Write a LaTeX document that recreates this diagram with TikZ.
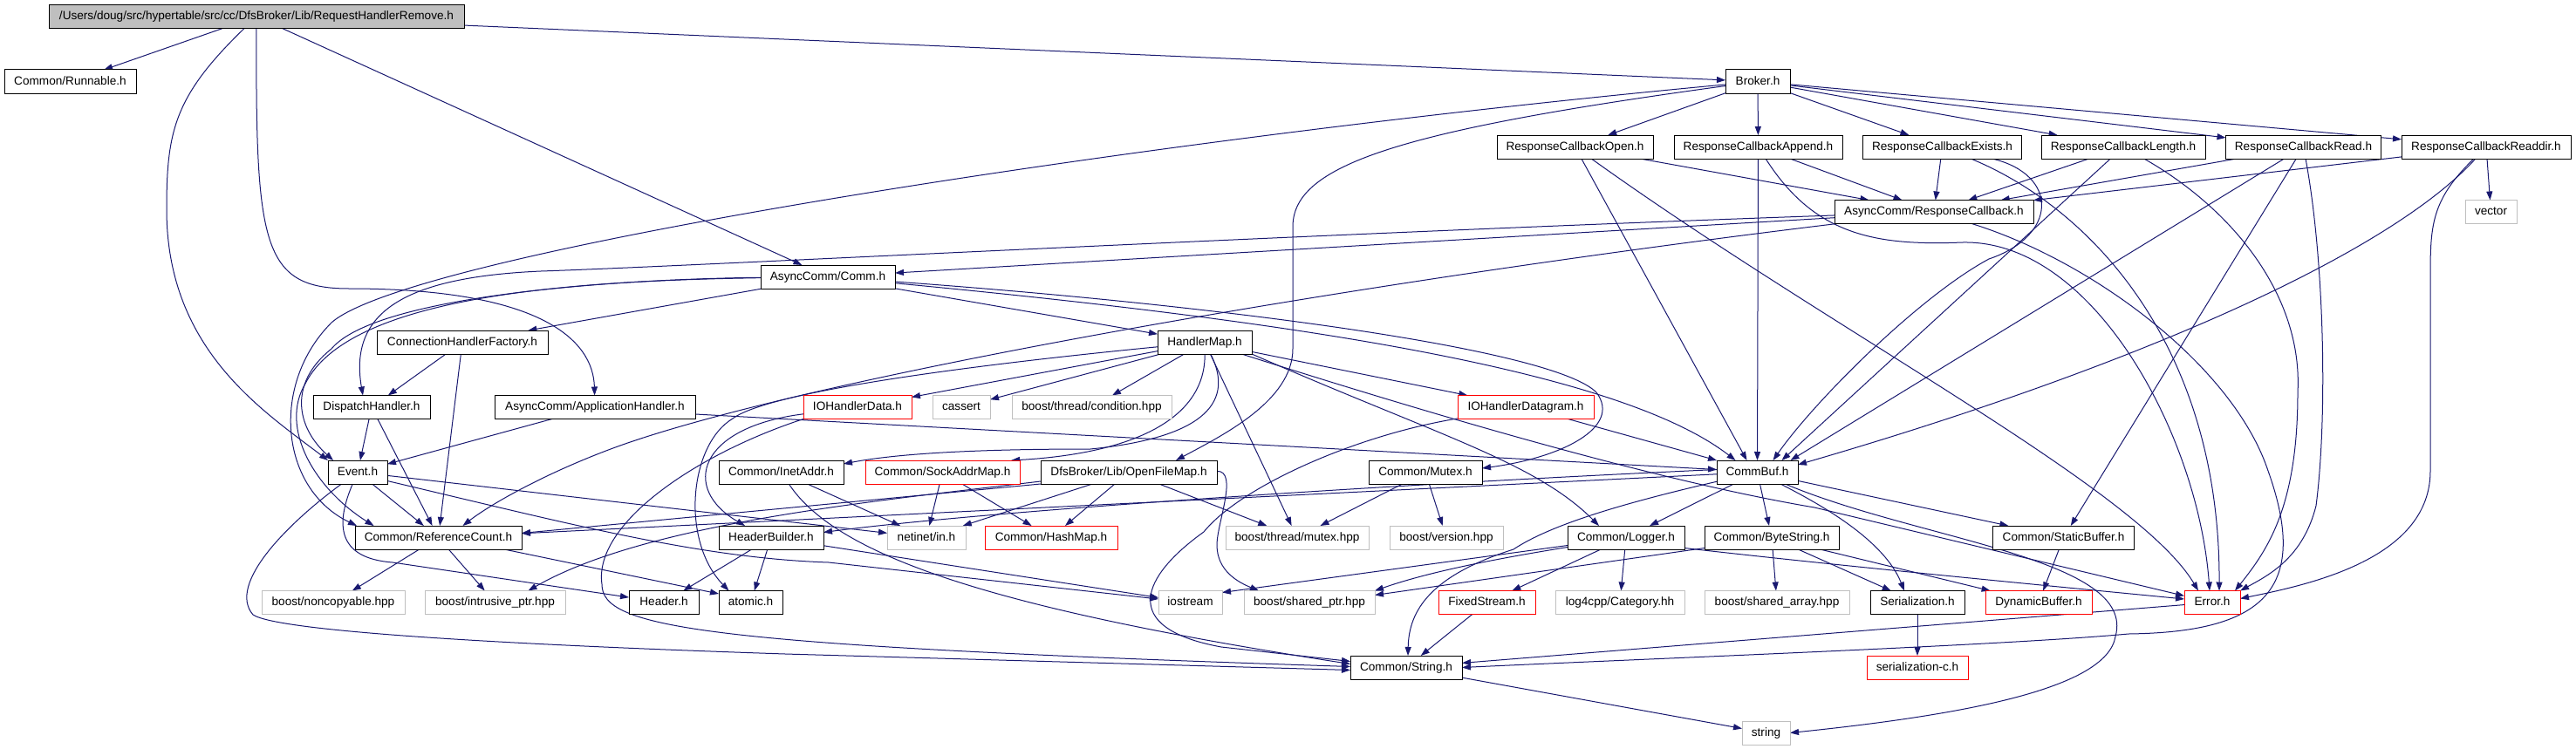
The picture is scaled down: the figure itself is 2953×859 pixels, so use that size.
\documentclass[tikz,border=0pt]{standalone}
\usepackage{fontspec}
\setmainfont{Liberation Sans}
\usetikzlibrary{arrows.meta}
\definecolor{edgecol}{HTML}{191970}
\definecolor{sysgrey}{HTML}{BFBFBF}
\newcommand\ndfont{\fontsize{13.6pt}{16pt}\selectfont}
\pgfdeclarelayer{bgl}
\pgfdeclarelayer{edgel}
\pgfsetlayers{bgl,edgel,main}
\begin{document}
\begin{tikzpicture}[x=1pt,y=-1pt,
  nd/.style={draw=black, fill=white, line width=1pt, minimum height=27pt, inner sep=0pt, outer sep=0pt, text height=10pt, text depth=3pt, font=\ndfont},
  ndred/.style={nd, draw=red},
  ndsys/.style={nd, draw=sysgrey},
  ndroot/.style={nd, fill=sysgrey},
  dep/.style={draw=edgecol, line width=1pt, -{Triangle[length=10pt,width=7pt]}}]
\useasboundingbox (0,0) rectangle (2953,859);
\begin{pgfonlayer}{bgl}\fill[white] (0,0) rectangle (2953,859);\end{pgfonlayer}

% ---------------- nodes ----------------
\node[ndroot, minimum width=476pt] (root) at (294,19) {/Users/doug/src/hypertable/src/cc/DfsBroker/Lib/RequestHandlerRemove.h};
\node[nd, minimum width=151pt] (runnable) at (80.5,93.5) {Common/Runnable.h};
\node[nd, minimum width=74pt] (broker) at (2015,93.5) {Broker.h};
\node[nd, minimum width=179pt] (rcopen) at (1805.5,168.5) {ResponseCallbackOpen.h};
\node[nd, minimum width=193pt] (rcappend) at (2015.5,168.5) {ResponseCallbackAppend.h};
\node[nd, minimum width=182pt] (rcexists) at (2226.5,168.5) {ResponseCallbackExists.h};
\node[nd, minimum width=188pt] (rclength) at (2434,168.5) {ResponseCallbackLength.h};
\node[nd, minimum width=178pt] (rcread) at (2640.5,168.5) {ResponseCallbackRead.h};
\node[nd, minimum width=194pt] (rcreaddir) at (2850,168.5) {ResponseCallbackReaddir.h};
\node[nd, minimum width=228pt] (respcb) at (2217,243) {AsyncComm/ResponseCallback.h};
\node[ndsys, minimum width=59pt] (vector) at (2855.5,243) {vector};
\node[nd, minimum width=154pt] (comm) at (949,317.5) {AsyncComm/Comm.h};
\node[nd, minimum width=196pt] (connhf) at (530,392.5) {ConnectionHandlerFactory.h};
\node[nd, minimum width=108pt] (handlermap) at (1381,392.5) {HandlerMap.h};
\node[nd, minimum width=134pt] (dispatch) at (426,467) {DispatchHandler.h};
\node[nd, minimum width=230pt] (apphandler) at (682,467) {AsyncComm/ApplicationHandler.h};
\node[ndred, minimum width=124pt] (iohdata) at (983,467) {IOHandlerData.h};
\node[ndsys, minimum width=66pt] (cassert) at (1102,467) {cassert};
\node[ndsys, minimum width=183pt] (condition) at (1251.5,467) {boost/thread/condition.hpp};
\node[ndred, minimum width=156pt] (iohdgram) at (1749,467) {IOHandlerDatagram.h};
\node[nd, minimum width=68pt] (event) at (410,541.5) {Event.h};
\node[nd, minimum width=143pt] (inetaddr) at (895.5,541.5) {Common/InetAddr.h};
\node[ndred, minimum width=177pt] (sockaddrmap) at (1080.5,541.5) {Common/SockAddrMap.h};
\node[nd, minimum width=202pt] (openfilemap) at (1294,541.5) {DfsBroker/Lib/OpenFileMap.h};
\node[nd, minimum width=130pt] (mutex) at (1634,541.5) {Common/Mutex.h};
\node[nd, minimum width=93pt] (commbuf) at (2014.5,541.5) {CommBuf.h};
\node[nd, minimum width=191pt] (refcount) at (502.5,616.5) {Common/ReferenceCount.h};
\node[nd, minimum width=120pt] (headerbuilder) at (884,616.5) {HeaderBuilder.h};
\node[ndsys, minimum width=90pt] (netinet) at (1062,616.5) {netinet/in.h};
\node[ndred, minimum width=152pt] (hashmap) at (1205,616.5) {Common/HashMap.h};
\node[ndsys, minimum width=164pt] (bmutex) at (1487,616.5) {boost/thread/mutex.hpp};
\node[ndsys, minimum width=130pt] (bversion) at (1658,616.5) {boost/version.hpp};
\node[nd, minimum width=134pt] (logger) at (1864,616.5) {Common/Logger.h};
\node[nd, minimum width=154pt] (bytestring) at (2031,616.5) {Common/ByteString.h};
\node[nd, minimum width=162pt] (staticbuffer) at (2365.5,616.5) {Common/StaticBuffer.h};
\node[ndsys, minimum width=164pt] (noncopyable) at (382,691) {boost/noncopyable.hpp};
\node[ndsys, minimum width=161pt] (intrusive) at (567.5,691) {boost/intrusive\_ptr.hpp};
\node[nd, minimum width=80pt] (header) at (761,691) {Header.h};
\node[nd, minimum width=73pt] (atomic) at (860.5,691) {atomic.h};
\node[ndsys, minimum width=73pt] (iostream) at (1364.5,691) {iostream};
\node[ndsys, minimum width=150pt] (sharedptr) at (1501,691) {boost/shared\_ptr.hpp};
\node[ndred, minimum width=111pt] (fixedstream) at (1704.5,691) {FixedStream.h};
\node[ndsys, minimum width=148pt] (category) at (1857,691) {log4cpp/Category.hh};
\node[ndsys, minimum width=166pt] (sharedarray) at (2037,691) {boost/shared\_array.hpp};
\node[nd, minimum width=108pt] (serialization) at (2198,691) {Serialization.h};
\node[ndred, minimum width=122pt] (dynbuf) at (2337,691) {DynamicBuffer.h};
\node[ndred, minimum width=64pt] (error) at (2536,691) {Error.h};
\node[nd, minimum width=128pt] (string) at (1612,765.5) {Common/String.h};
\node[ndred, minimum width=116pt] (serc) at (2198,765.5) {serialization-c.h};
\node[ndsys, minimum width=55pt] (stdstring) at (2024.5,840.5) {string};

% ---------------- edges ----------------
\begin{pgfonlayer}{edgel}
% root
\draw[dep] (root) -- (runnable);
\draw[dep] (root) -- (broker);
\draw[dep] (root) -- (comm);
\draw[dep] (root) .. controls (293,280) and (300,331) .. (400,331) .. controls (620,331) and (680,390) .. (apphandler);
\draw[dep] (root) .. controls (200,110) and (191,150) .. (191,240) .. controls (191,400) and (300,470) .. (event.north west);
% broker
\draw[dep] (broker) -- (rcopen);
\draw[dep] (broker) -- (rcappend);
\draw[dep] (broker) -- (rcexists);
\draw[dep] (broker) -- (rclength);
\draw[dep] (broker) -- (rcread);
\draw[dep] (broker) -- (rcreaddir);
\draw[dep] (broker) .. controls (1300,160) and (470,290) .. (380,370) .. controls (310,440) and (320,560) .. ([xshift=2pt]refcount.north west);
\draw[dep] (broker) .. controls (1600,150) and (1482,190) .. (1482,260) -- (1482,400) .. controls (1482,460) and (1400,500) .. ([xshift=54pt]openfilemap.north);
% response callbacks
\draw[dep] (rcopen) -- (respcb);
\draw[dep] (rcopen) -- ([xshift=-12pt]commbuf.north);
\draw[dep] (rcopen) .. controls (2100,380) and (2450,560) .. ([xshift=-16pt]error.north);
\draw[dep] (rcappend) -- (respcb);
\draw[dep] (rcappend) -- (commbuf.north);
\draw[dep] (rcappend) .. controls (2080,270) and (2150,282) .. (2250,278) .. controls (2400,275) and (2520,500) .. ([xshift=-3pt]error.north);
\draw[dep] (rcexists) -- (respcb);
\draw[dep] (rcexists) .. controls (2360,200) and (2360,270) .. (2280,297) .. controls (2200,340) and (2080,460) .. ([xshift=18pt]commbuf.north);
\draw[dep] (rcexists) .. controls (2400,240) and (2545,400) .. ([xshift=8pt]error.north);
\draw[dep] (rclength) -- (respcb);
\draw[dep] (rclength) -- ([xshift=28pt]commbuf.north);
\draw[dep] (rclength) .. controls (2560,240) and (2640,340) .. (2634,450) .. controls (2634,580) and (2600,630) .. ([xshift=-6pt]error.north east);
\draw[dep] (rcread) -- (respcb);
\draw[dep] (rcread) -- ([xshift=38pt]commbuf.north);
\draw[dep] (rcread) -- (staticbuffer);
\draw[dep] (rcread) .. controls (2665,300) and (2668,480) .. (2655,580) .. controls (2640,640) and (2600,660) .. (error.north east);
\draw[dep] (rcreaddir) -- (respcb);
\draw[dep] (rcreaddir) -- (vector);
\draw[dep] (rcreaddir) .. controls (2740,290) and (2450,420) .. ([yshift=-5pt]commbuf.north east);
\draw[dep] (rcreaddir) .. controls (2786,230) and (2786,260) .. (2786,320) -- (2786,540) .. controls (2786,640) and (2650,670) .. ([yshift=-9pt]error.north east);
% response callback
\draw[dep] (respcb) -- (comm);
\draw[dep] (respcb) .. controls (1500,268) and (800,305) .. (620,311) .. controls (460,318) and (400,360) .. ([xshift=-10pt]dispatch.north);
\draw[dep] (respcb) .. controls (1500,330) and (900,440) .. (700,515) .. controls (620,545) and (560,580) .. ([xshift=28pt]refcount.north);
\draw[dep] (respcb) .. controls (2400,300) and (2560,420) .. (2600,540) .. controls (2650,680) and (2590,725) .. (2440,727) .. controls (2300,740) and (1900,755) .. (string.east);
% comm
\draw[dep] (comm) -- (connhf);
\draw[dep] (comm) -- (handlermap);
\draw[dep] (comm) .. controls (700,320) and (430,340) .. (380,400) .. controls (330,440) and (340,490) .. ([xshift=6pt]event.north west);
\draw[dep] (comm) .. controls (650,322) and (400,340) .. (350,440) .. controls (320,490) and (360,560) .. ([xshift=-74pt]refcount.north);
\draw[dep] (comm) .. controls (1400,350) and (1780,400) .. (1830,450) .. controls (1860,490) and (1790,525) .. ([yshift=-9pt]mutex.north east);
\draw[dep] (comm) .. controls (1450,365) and (1850,420) .. ([xshift=-25pt]commbuf.north);
% handler map
\draw[dep] (handlermap) -- (iohdata);
\draw[dep] (handlermap) -- (cassert);
\draw[dep] (handlermap) -- (condition);
\draw[dep] (handlermap) .. controls (1382,480) and (1300,520) .. ([xshift=-10pt]sockaddrmap.north east);
\draw[dep] (handlermap) .. controls (1410,450) and (1400,500) .. (1250,515) .. controls (1150,515) and (1040,518) .. ([yshift=-4pt]inetaddr.north east);
\draw[dep] (handlermap) -- (iohdgram);
\draw[dep] (handlermap) -- (bmutex);
\draw[dep] (handlermap.south east) .. controls (1650,500) and (1760,530) .. ([xshift=-31pt]logger.north);
\draw[dep] (handlermap) .. controls (1750,510) and (1950,560) .. (2080,582) -- (error);
\draw[dep] (handlermap) .. controls (1100,420) and (880,450) .. (840,480) .. controls (790,510) and (780,620) .. ([xshift=-25pt]atomic.north);
% io handlers
\draw[dep] (iohdata) .. controls (800,490) and (780,560) .. ([xshift=-30pt]headerbuilder.north);
\draw[dep] (iohdata.south west) .. controls (800,520) and (680,600) .. (690,670) .. controls (690,720) and (800,740) .. ([yshift=1pt]string.west);
\draw[dep] (iohdgram) -- (commbuf.north west);
\draw[dep] (iohdgram) .. controls (1550,500) and (1420,560) .. (1380,610) .. controls (1310,660) and (1280,720) .. (1400,742) -- ([yshift=7pt]string.west);
% handlers
\draw[dep] (connhf) -- (dispatch);
\draw[dep] (connhf) -- (refcount);
\draw[dep] (dispatch) -- (event);
\draw[dep] (dispatch) -- (refcount);
\draw[dep] (apphandler) -- (event);
\draw[dep] ([yshift=-8pt]apphandler.east) -- ([yshift=3pt]commbuf.west);
% event
\draw[dep] (event) -- (refcount);
\draw[dep] (event) .. controls (385,600) and (385,640) .. (450,645) -- (header);
\draw[dep] (event) -- (netinet);
\draw[dep] ([yshift=-10pt]event.east) .. controls (650,600) and (800,640) .. (950,645) -- ([yshift=4pt]iostream.west);
\draw[dep] (event) .. controls (330,600) and (260,670) .. (290,705) .. controls (320,725) and (600,740) .. (900,750) -- ([yshift=-3pt]string.west);
% addresses
\draw[dep] (inetaddr) -- (netinet);
\draw[dep] (inetaddr) .. controls (960,640) and (1150,700) .. ([yshift=4pt]string.west);
\draw[dep] (sockaddrmap) -- (netinet);
\draw[dep] (sockaddrmap) -- (hashmap);
% open file map
\draw[dep] (openfilemap.south west) -- ([yshift=5pt]refcount.east);
\draw[dep] ([yshift=3pt]openfilemap.south west) .. controls (1000,575) and (740,600) .. ([xshift=38pt]intrusive.north);
\draw[dep] (openfilemap) -- (netinet);
\draw[dep] (openfilemap) -- (hashmap);
\draw[dep] (openfilemap) -- (bmutex);
\draw[dep] (openfilemap) .. controls (1420,540) and (1395,600) .. (1395,625) .. controls (1395,655) and (1420,668) .. ([xshift=-58pt]sharedptr.north);
% mutex
\draw[dep] (mutex) -- (bmutex);
\draw[dep] (mutex) -- (bversion);
% commbuf
\draw[dep] (commbuf) -- (logger);
\draw[dep] (commbuf) -- (bytestring);
\draw[dep] (commbuf) -- (staticbuffer);
\draw[dep] (commbuf) .. controls (2090,580) and (2160,620) .. ([xshift=-15pt]serialization.north);
\draw[dep] (commbuf) .. controls (2200,620) and (2450,640) .. (2425,730) .. controls (2415,790) and (2250,820) .. (stdstring.east);
\draw[dep] (commbuf) -- (refcount);
\draw[dep] ([yshift=3pt]commbuf.west) .. controls (1500,560) and (1100,590) .. ([yshift=6pt]headerbuilder.east);
\draw[dep] (commbuf) .. controls (1870,575) and (1780,600) .. (1735,630) .. controls (1640,660) and (1615,700) .. ([xshift=2pt]string.north);
% logger
\draw[dep] (logger) -- (fixedstream);
\draw[dep] (logger) -- (category);
\draw[dep] ([yshift=-9pt]logger.west) -- ([yshift=-2pt]iostream.north east);
\draw[dep] ([yshift=-11pt]logger.west) .. controls (1720,640) and (1640,655) .. (sharedptr.north east);
\draw[dep] ([yshift=-12pt]logger.east) .. controls (2100,648) and (2350,672) .. ([yshift=4pt]error.west);
% byte string
\draw[dep] (bytestring) -- (sharedarray);
\draw[dep] (bytestring) -- (serialization);
\draw[dep] (bytestring) -- (dynbuf);
\draw[dep] ([yshift=-12pt]bytestring.west) -- ([yshift=-5pt]sharedptr.north east);
\draw[dep] (staticbuffer) -- (dynbuf);
% lower levels
\draw[dep] (refcount) -- (noncopyable);
\draw[dep] (refcount) -- (intrusive);
\draw[dep] ([xshift=-20pt]refcount.south east) -- ([yshift=10pt]atomic.west);
\draw[dep] (headerbuilder) -- (header);
\draw[dep] (headerbuilder) -- (atomic);
\draw[dep] (headerbuilder) -- (iostream);
\draw[dep] (fixedstream) -- (string);
\draw[dep] (serialization) -- (serc);
\draw[dep] (error) -- (string);
\draw[dep] (string) -- (stdstring);
\end{pgfonlayer}
\end{tikzpicture}
\end{document}
